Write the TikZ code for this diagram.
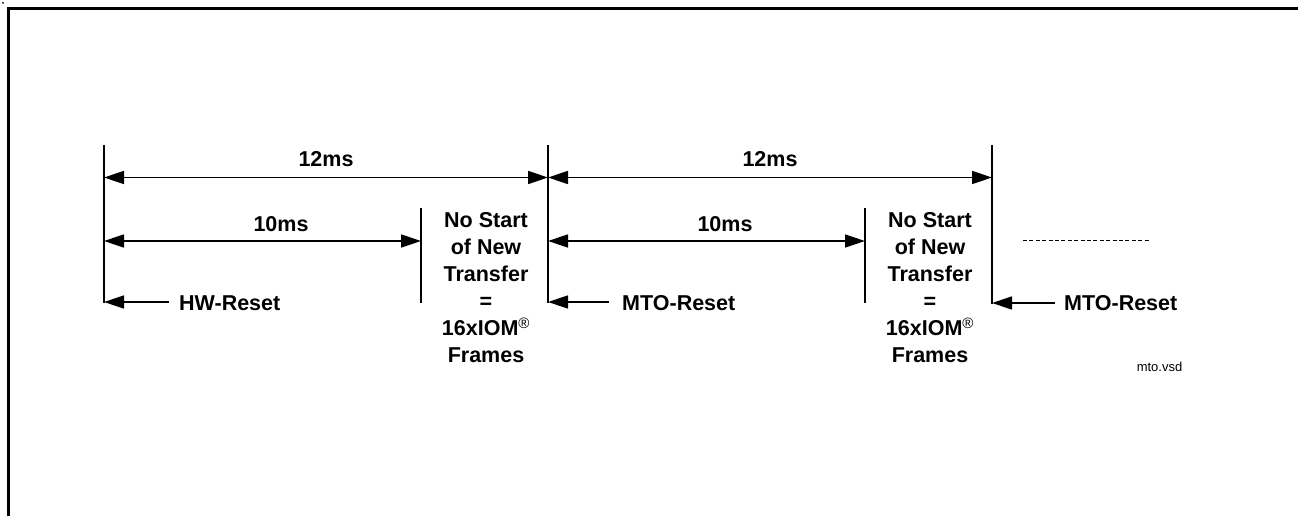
\documentclass[tikz,border=0pt]{standalone}
\usepackage{fontspec}
\setmainfont{Liberation Sans}
\usetikzlibrary{arrows.meta}
\tikzset{
  cadre/.style={line width=3pt},
  trait/.style={line width=1.5pt},
  cote/.style={line width=1.5pt,{Triangle[length=20pt,width=13pt]}-{Triangle[length=20pt,width=13pt]}},
  fleche/.style={line width=1.5pt,-{Triangle[length=20pt,width=13pt]}},
  etiq/.style={font=\bfseries\fontsize{21.5}{27}\selectfont,inner sep=0pt},
  bloc/.style={font=\bfseries\fontsize{21.5}{27}\selectfont,align=center,inner sep=0pt},
  petit/.style={font=\fontsize{13}{15}\selectfont,inner sep=0pt}
}
\begin{document}
\begin{tikzpicture}[x=1pt,y=-1pt]
		\useasboundingbox (0,0) rectangle (1298,516);
		%Cadre
		\coordinate (C0) at (8.5,516);
		\coordinate (C1) at (8.5,9);
		\coordinate (C2) at (1298,9);
		\draw[cadre] (C0) -- (C1) -- (C2);
		\fill (3,3) circle (1);
		%Reperes verticaux
		\coordinate (H0) at (104,145);
		\coordinate (B0) at (104,303);
		\coordinate (H1) at (548,145);
		\coordinate (B1) at (548,303);
		\coordinate (H2) at (992,145);
		\coordinate (B2) at (992,304);
		\coordinate (S0) at (421,208);
		\coordinate (T0) at (421,303);
		\coordinate (S1) at (865,208);
		\coordinate (T1) at (865,303);
		\draw[trait] (H0) -- (B0);
		\draw[trait] (H1) -- (B1);
		\draw[trait] (H2) -- (B2);
		\draw[trait] (S0) -- (T0);
		\draw[trait] (S1) -- (T1);
		%Extremites des cotes
		\coordinate (A0) at (104,177.5);
		\coordinate (A1) at (548,177.5);
		\coordinate (A2) at (992,177.5);
		\coordinate (D0) at (104,241);
		\coordinate (E0) at (421,241);
		\coordinate (D1) at (548,241);
		\coordinate (E1) at (865,241);
		\coordinate (R0) at (104,302);
		\coordinate (R1) at (548,302);
		\coordinate (R2) at (992,303);
		%Cotes
		\draw[cote] (A0) -- (A1) node[etiq,midway,above=10pt] (d12a) {12ms};
		\draw[cote] (A1) -- (A2) node[etiq,midway,above=10pt] (d12b) {12ms};
		\draw[cote] (D0) -- (E0);
		\draw[cote] (D1) -- (E1);
		\node[etiq] (d10a) at (281,224.5) {10ms};
		\node[etiq] (d10b) at (725,224.5) {10ms};
		%Remises a zero
		\node[etiq,anchor=west] (hw) at (179,303) {HW-Reset};
		\node[etiq,anchor=west] (mto1) at (622,303) {MTO-Reset};
		\node[etiq,anchor=west] (mto2) at (1064,303) {MTO-Reset};
		\coordinate (Q0) at (169,302);
		\coordinate (Q1) at (609,302);
		\coordinate (Q2) at (1055,303);
		\draw[fleche] (Q0) -- (R0);
		\draw[fleche] (Q1) -- (R1);
		\draw[fleche] (Q2) -- (R2);
		%Blocs de texte
		\node[bloc] (ns0) at (486,288) {No Start\\of New\\Transfer\\=\\16xIOM\textsuperscript{\mdseries ®}\\Frames};
		\node[bloc] (ns1) at (930,288) {No Start\\of New\\Transfer\\=\\16xIOM\textsuperscript{\mdseries ®}\\Frames};
		%Suite
		\coordinate (P0) at (1023,240);
		\coordinate (P1) at (1150,240);
		\draw[line width=1pt,dash pattern=on 4pt off 2.4pt] (P0) -- (P1);
		\node[petit] (nom) at (1159.5,367) {mto.vsd};
\end{tikzpicture}
\end{document}
